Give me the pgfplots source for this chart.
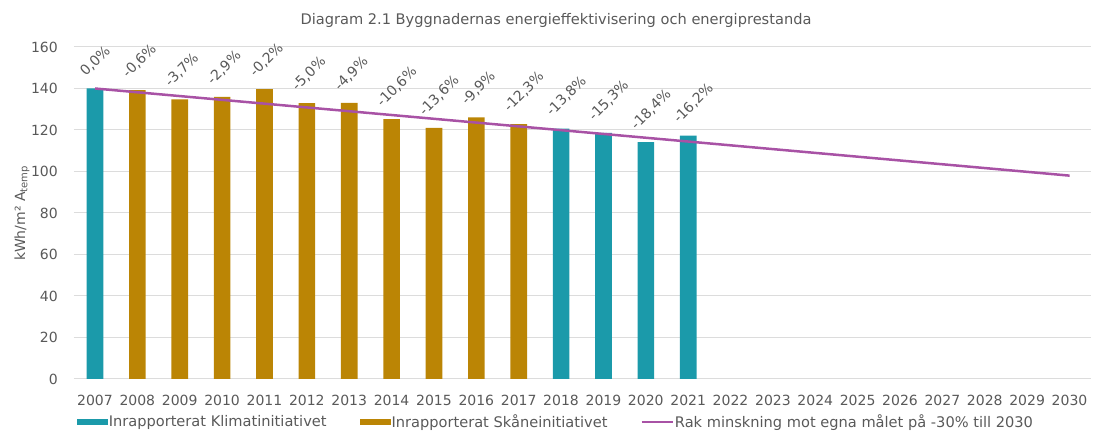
\documentclass[border=0pt]{standalone}
\usepackage{pgfplots}
\pgfplotsset{compat=1.18}
\usepackage{pgfplotstable}
\usepackage{fontspec}
\setmainfont{DejaVu Sans}
\definecolor{teal1}{RGB}{27,154,170}
\definecolor{gold1}{RGB}{187,133,5}
\definecolor{line1}{RGB}{168,82,165}
\definecolor{txt}{RGB}{89,89,89}
\definecolor{grid1}{RGB}{220,220,220}
\definecolor{axis1}{RGB}{200,200,200}

\pgfplotstableread{
x y lab
2007 140 0,0\%
2018 120.7 -13,8\%
2019 118.6 -15,3\%
2020 114.2 -18,4\%
2021 117.3 -16,2\%
}\klim

\pgfplotstableread{
x y lab
2008 139.2 -0,6\%
2009 134.8 -3,7\%
2010 135.9 -2,9\%
2011 139.7 -0,2\%
2012 133.0 -5,0\%
2013 133.1 -4,9\%
2014 125.2 -10,6\%
2015 121.0 -13,6\%
2016 126.1 -9,9\%
2017 122.8 -12,3\%
}\skane

\begin{document}
\begin{tikzpicture}
\useasboundingbox (0,0) rectangle (552.5pt,218.5pt);
\node[font=\fontsize{7.3}{8.5}\selectfont, text=txt] at (278pt,208.5pt) {Diagram 2.1 Byggnadernas energieffektivisering och energiprestanda};
\begin{axis}[
  at={(36.9pt,29pt)}, anchor=south west,
  width=508.5pt, height=166pt, scale only axis,
  xmin=2006.5, xmax=2030.5, ymin=0, ymax=160,
  xtick={2007,...,2030}, ytick={20,40,...,160},
  extra y ticks={0}, extra y tick style={grid style={axis1, line width=0.6pt}},
  /pgf/number format/1000 sep={},
  /pgf/number format/assume math mode=true,
  axis line style={draw=none},
  major tick length=0pt,
  ymajorgrids,
  major grid style={grid1, line width=0.5pt},
  tick label style={font=\fontsize{7}{8}\selectfont, text=txt},
  xticklabel style={yshift=-4.5pt},
  yticklabel style={xshift=-4.5pt},
  ylabel={kWh/m² A\textsubscript{temp}},
  ylabel style={font=\fontsize{7}{8}\selectfont, text=txt, at={(axis description cs:-0.051,0.5)}, anchor=center},
  clip=false,
  legend columns=3,
  legend style={draw=none, fill=none, font=\fontsize{7.3}{8.5}\selectfont, text=txt,
    at={(0.475,-0.13)}, anchor=center,
    /tikz/every odd column/.append style={column sep=-1.5pt},
    /tikz/every even column/.append style={column sep=14.5pt}},
  legend cell align=left,
  every node near coord/.append style={font=\fontsize{7}{8}\selectfont, text=txt, xshift=-4pt, yshift=5pt, rotate=45, anchor=south west, inner sep=0pt},
]
\addplot[ybar, bar width=8.3pt, bar shift=0pt, fill=teal1, draw=none,
  nodes near coords, point meta=explicit symbolic,
  legend image code/.code={\fill[teal1] (0pt,-1.4pt) rectangle (15.5pt,1.4pt);}]
  table[x=x, y=y, meta=lab]{\klim};
\addlegendentry{Inrapporterat Klimatinitiativet}
\addplot[ybar, bar width=8.3pt, bar shift=0pt, fill=gold1, draw=none,
  nodes near coords, point meta=explicit symbolic,
  legend image code/.code={\fill[gold1] (0pt,-1.4pt) rectangle (15.5pt,1.4pt);}]
  table[x=x, y=y, meta=lab]{\skane};
\addlegendentry{Inrapporterat Skåneinitiativet}
\addplot[line1, line width=1.25pt, mark=none,
  legend image code/.code={\draw[line1, line width=1.25pt] (0pt,0pt) -- (15.5pt,0pt);}]
  coordinates {(2007,140) (2030,98)};
\addlegendentry{Rak minskning mot egna målet på -30\% till 2030}
\end{axis}
\end{tikzpicture}
\end{document}
